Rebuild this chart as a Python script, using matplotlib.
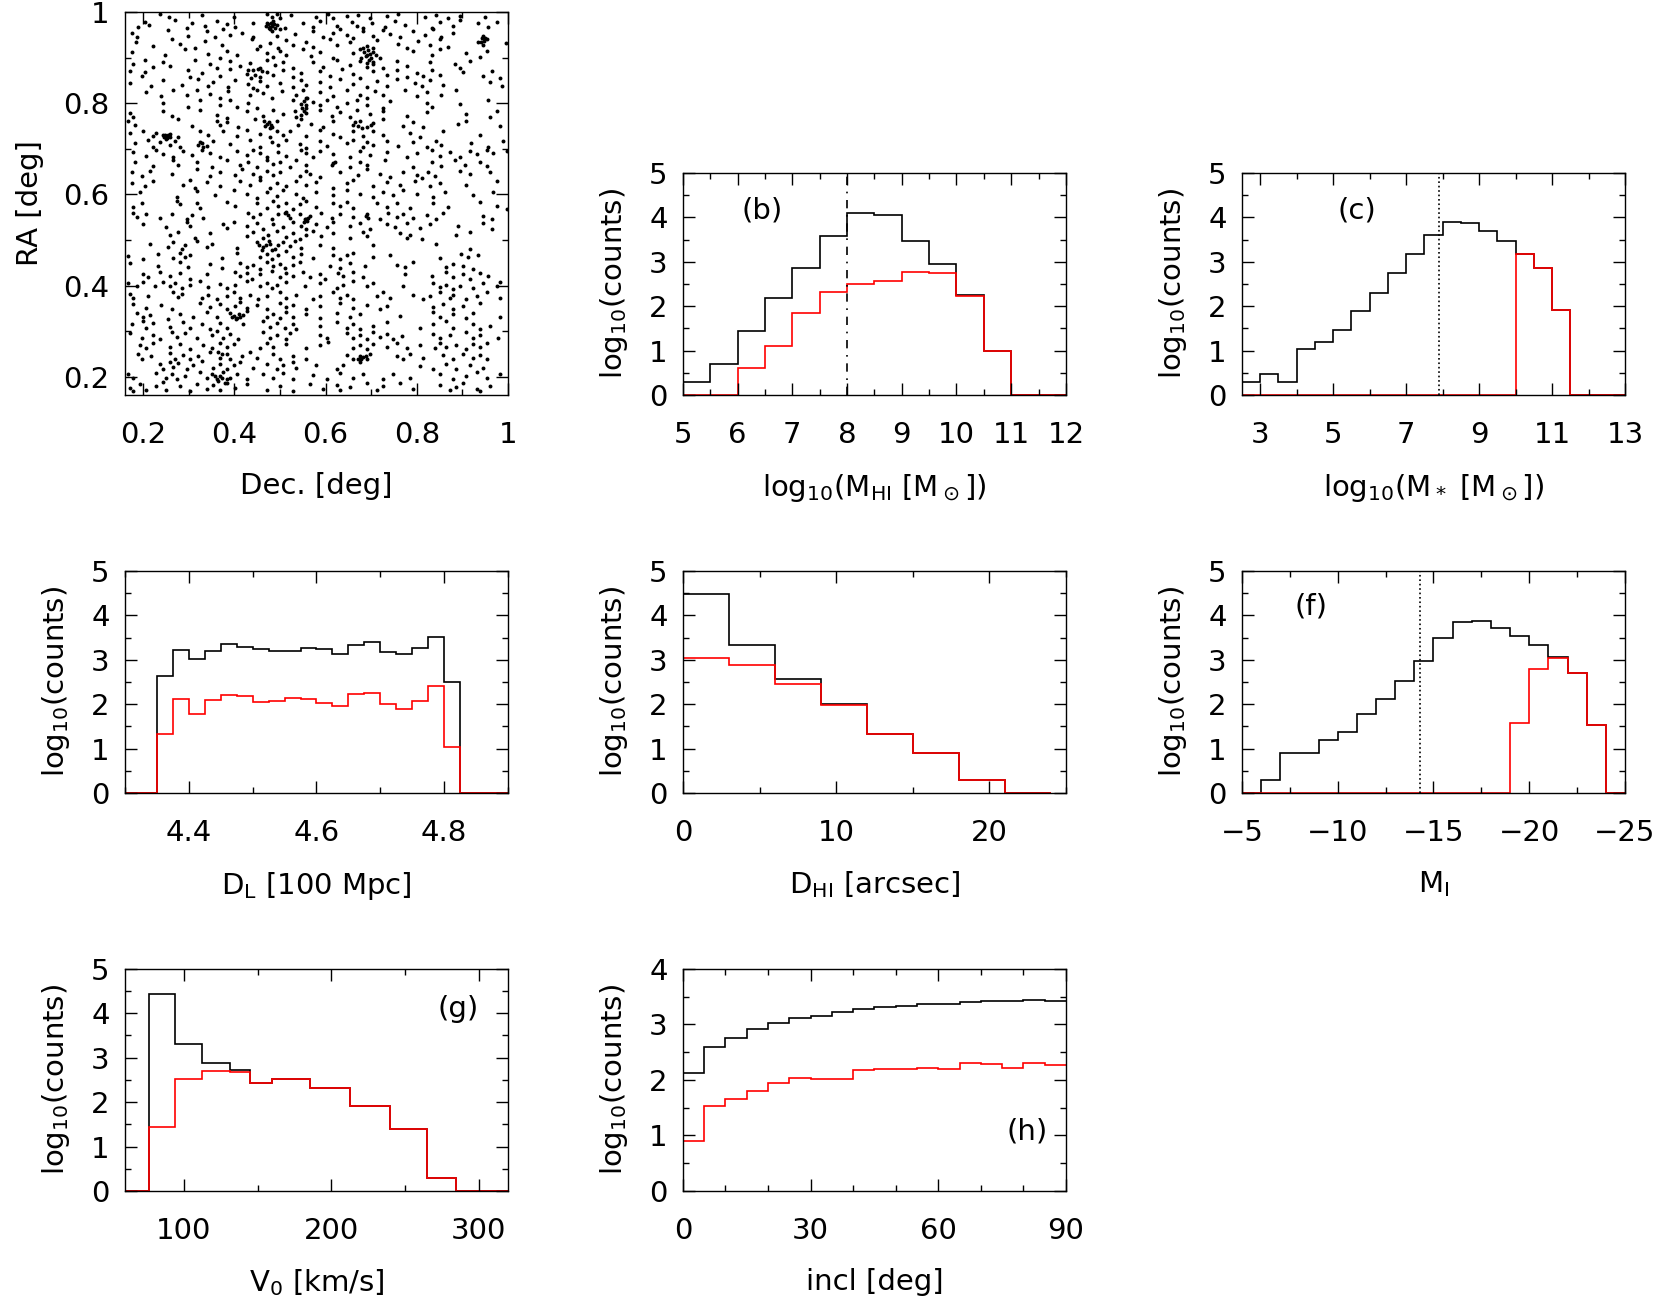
import numpy as np
import matplotlib
matplotlib.use("Agg")
import matplotlib.pyplot as plt
from matplotlib import ticker

plt.rcParams['font.family'] = ['DejaVu Sans']
plt.rcParams['mathtext.fontset'] = 'dejavusans'
plt.rcParams['font.size'] = 21

# ---- (a) sky positions: (Dec, RA) in deg ----
pts_north = [
    (0.237,0.996),(0.257,0.988),(0.328,0.993),(0.398,0.990),(0.471,0.995),(0.482,0.990),(0.493,0.996),(0.500,0.986),
    (0.525,0.993),(0.580,0.988),(0.606,0.995),(0.617,0.986),(0.646,0.991),(0.672,0.994),(0.697,0.987),(0.734,0.992),
    (0.759,0.996),(0.818,0.989),(0.843,0.994),(0.869,0.987),(0.895,0.992),(0.949,0.990),
    (0.189,0.968),(0.204,0.978),(0.213,0.972),(0.270,0.982),(0.295,0.966),(0.306,0.975),(0.335,0.970),(0.361,0.980),
    (0.383,0.973),(0.401,0.968),(0.441,0.977),(0.471,0.975),(0.478,0.968),(0.485,0.980),(0.493,0.972),(0.511,0.966),
    (0.551,0.975),(0.573,0.968),(0.588,0.980),(0.624,0.970),(0.657,0.978),(0.668,0.970),(0.683,0.965),(0.701,0.975),
    (0.730,0.968),(0.752,0.980),(0.774,0.972),(0.833,0.966),(0.851,0.978),(0.880,0.970),(0.895,0.982),(0.935,0.975),
    (0.957,0.968),(0.975,0.978),
    (0.474,0.974),(0.480,0.977),(0.483,0.970),(0.476,0.966),(0.486,0.974),(0.479,0.962),(0.470,0.970),(0.488,0.966),
    (0.175,0.955),(0.186,0.945),(0.255,0.960),(0.299,0.948),(0.339,0.958),(0.357,0.945),(0.376,0.962),(0.390,0.950),
    (0.416,0.955),(0.441,0.946),(0.482,0.958),(0.493,0.948),(0.500,0.962),(0.533,0.952),(0.573,0.958),(0.595,0.945),
    (0.617,0.955),(0.631,0.962),(0.646,0.950),(0.661,0.944),(0.683,0.958),(0.705,0.948),(0.727,0.960),(0.741,0.952),
    (0.763,0.945),(0.792,0.958),(0.818,0.950),(0.836,0.962),(0.854,0.946),(0.880,0.955),(0.946,0.948),(0.953,0.940),
    (0.184,0.935),(0.222,0.925),(0.262,0.940),(0.281,0.930),(0.313,0.922),(0.335,0.937),(0.372,0.928),(0.438,0.940),
    (0.456,0.925),(0.478,0.933),(0.496,0.922),(0.514,0.938),(0.529,0.928),(0.558,0.935),(0.573,0.923),(0.610,0.940),
    (0.624,0.928),(0.653,0.935),(0.690,0.925),(0.712,0.938),(0.759,0.930),(0.778,0.922),(0.803,0.937),(0.829,0.927),
    (0.851,0.940),(0.869,0.923),(0.935,0.935),(0.946,0.928),(0.995,0.933),
    (0.942,0.942),(0.950,0.944),(0.948,0.936),(0.940,0.934),
    (0.175,0.912),(0.248,0.905),(0.292,0.918),(0.343,0.908),(0.368,0.900),(0.383,0.915),(0.405,0.905),(0.449,0.918),
    (0.471,0.910),(0.485,0.902),(0.500,0.915),(0.514,0.906),(0.551,0.918),(0.569,0.903),(0.588,0.912),(0.617,0.900),
    (0.661,0.910),(0.675,0.918),(0.690,0.905),(0.705,0.913),(0.719,0.900),(0.792,0.915),(0.833,0.905),(0.851,0.918),
    (0.909,0.910),(0.938,0.902),(0.953,0.915),
    (0.685,0.912),(0.693,0.916),(0.698,0.908),(0.688,0.903),(0.700,0.900),(0.705,0.920),(0.682,0.920),(0.695,0.895),
    (0.710,0.905),(0.678,0.900),(0.703,0.890),(0.690,0.888),
    (0.177,0.885),(0.204,0.895),(0.222,0.880),(0.244,0.890),(0.259,0.882),(0.313,0.895),(0.346,0.885),(0.361,0.878),
    (0.390,0.892),(0.412,0.882),(0.434,0.888),(0.456,0.878),(0.471,0.895),(0.489,0.884),(0.507,0.890),(0.529,0.878),
    (0.573,0.890),(0.595,0.880),(0.624,0.895),(0.653,0.884),(0.675,0.892),(0.690,0.880),(0.705,0.886),(0.727,0.878),
    (0.756,0.892),(0.778,0.882),(0.829,0.890),(0.884,0.885),(0.895,0.878),(0.917,0.892),
    (0.171,0.870),(0.197,0.860),(0.204,0.868),(0.299,0.872),(0.303,0.858),(0.328,0.866),(0.368,0.860),(0.390,0.874),
    (0.427,0.865),(0.441,0.872),(0.456,0.858),(0.471,0.868),(0.485,0.862),(0.507,0.872),(0.529,0.858),(0.547,0.866),
    (0.588,0.870),(0.610,0.860),(0.635,0.874),(0.661,0.864),(0.675,0.856),(0.705,0.870),(0.734,0.862),(0.756,0.872),
    (0.778,0.858),(0.800,0.866),(0.814,0.860),(0.833,0.872),(0.851,0.862),(0.902,0.868),(0.946,0.860),(0.964,0.870),
    (0.982,0.856),(0.430,0.872),(0.445,0.862),(0.460,0.870),(0.437,0.855),(0.452,0.876),
    (0.171,0.845),(0.218,0.838),(0.244,0.850),(0.284,0.840),(0.321,0.852),(0.343,0.838),(0.354,0.846),(0.387,0.835),
    (0.401,0.850),(0.430,0.842),(0.441,0.834),(0.456,0.848),(0.471,0.838),(0.500,0.845),(0.529,0.835),(0.547,0.850),
    (0.558,0.840),(0.588,0.846),(0.610,0.836),(0.631,0.852),(0.661,0.842),(0.690,0.835),(0.712,0.848),(0.734,0.838),
    (0.756,0.852),(0.796,0.845),(0.811,0.838),(0.829,0.850),(0.858,0.840),(0.960,0.846),(0.986,0.838),
    (0.207,0.825),(0.240,0.815),(0.266,0.828),(0.295,0.818),(0.317,0.830),(0.346,0.820),(0.368,0.812),(0.387,0.826),
    (0.434,0.818),(0.449,0.830),(0.463,0.822),(0.482,0.812),(0.504,0.826),(0.536,0.818),(0.551,0.830),(0.558,0.812),
    (0.588,0.824),(0.617,0.815),(0.646,0.828),(0.675,0.818),(0.690,0.812),(0.708,0.826),(0.727,0.818),(0.774,0.828),
    (0.800,0.815),(0.822,0.825),(0.854,0.818),(0.887,0.828),
    (0.553,0.805),(0.556,0.795),(0.548,0.790),(0.560,0.812),(0.552,0.782),(0.545,0.775),
    (0.244,0.800),(0.299,0.792),(0.324,0.806),(0.368,0.796),(0.390,0.808),(0.405,0.792),(0.430,0.800),(0.449,0.790),
    (0.529,0.806),(0.547,0.798),(0.558,0.790),(0.573,0.802),(0.588,0.795),(0.602,0.808),(0.624,0.792),(0.646,0.800),
    (0.668,0.808),(0.690,0.795),(0.727,0.790),(0.741,0.805),(0.822,0.800),(0.833,0.792),(0.895,0.798),(0.957,0.806),
    (0.171,0.778),(0.178,0.770),(0.244,0.782),(0.262,0.772),(0.324,0.786),(0.361,0.775),(0.383,0.768),(0.427,0.782),
    (0.463,0.772),(0.485,0.786),(0.507,0.776),(0.533,0.782),(0.536,0.770),(0.558,0.778),(0.588,0.786),(0.613,0.772),
    (0.631,0.780),(0.653,0.770),(0.668,0.785),(0.697,0.776),(0.727,0.782),(0.778,0.772),(0.822,0.780),(0.909,0.776),
    (0.960,0.770),(0.975,0.782),
    (0.167,0.760),(0.182,0.752),(0.277,0.765),(0.306,0.750),(0.361,0.762),(0.368,0.752),(0.383,0.758),(0.408,0.748),
    (0.445,0.765),(0.471,0.755),(0.482,0.748),(0.493,0.760),(0.540,0.752),(0.547,0.765),(0.569,0.755),(0.595,0.748),
    (0.617,0.762),(0.661,0.752),(0.675,0.760),(0.690,0.748),(0.705,0.756),(0.727,0.765),(0.770,0.750),(0.792,0.758),
    (0.814,0.748),(0.891,0.755),(0.909,0.762),(0.982,0.750),
    (0.475,0.758),(0.468,0.750),(0.478,0.745),(0.465,0.762),(0.480,0.752),
    (0.665,0.758),(0.672,0.750),(0.680,0.745),(0.700,0.752),
    (0.171,0.735),(0.200,0.740),(0.222,0.728),(0.229,0.735),(0.248,0.730),(0.251,0.726),(0.259,0.732),(0.277,0.725),
    (0.324,0.740),(0.343,0.730),(0.376,0.738),(0.405,0.728),(0.427,0.742),(0.456,0.732),(0.478,0.725),(0.493,0.740),
    (0.507,0.730),(0.522,0.738),(0.558,0.728),(0.588,0.742),(0.617,0.732),(0.631,0.725),(0.661,0.738),(0.683,0.728),
    (0.705,0.740),(0.727,0.730),(0.785,0.735),(0.807,0.726),(0.858,0.738),(0.938,0.730),
    (0.248,0.728),(0.253,0.724),(0.256,0.729),(0.250,0.722),(0.245,0.725),(0.254,0.731),(0.258,0.725),(0.243,0.730),
    (0.182,0.712),(0.211,0.720),(0.222,0.705),(0.237,0.715),(0.259,0.708),(0.270,0.718),(0.281,0.705),(0.324,0.715),
    (0.339,0.706),(0.354,0.718),(0.390,0.710),(0.434,0.720),(0.456,0.705),(0.482,0.715),(0.496,0.708),(0.514,0.720),
    (0.544,0.710),(0.558,0.702),(0.588,0.716),(0.602,0.706),(0.646,0.712),(0.661,0.720),(0.683,0.705),(0.690,0.715),
    (0.705,0.708),(0.734,0.718),(0.759,0.706),(0.792,0.714),(0.822,0.704),(0.843,0.716),(0.854,0.708),(0.920,0.712),
    (0.957,0.704),(0.990,0.716),(0.328,0.712),(0.332,0.705),(0.320,0.708),
    (0.178,0.692),(0.207,0.685),(0.229,0.698),(0.244,0.688),(0.266,0.682),(0.288,0.695),(0.306,0.686),(0.328,0.698),
    (0.346,0.690),(0.368,0.682),(0.405,0.695),(0.427,0.686),(0.441,0.698),(0.456,0.690),(0.471,0.682),(0.496,0.694),
    (0.514,0.685),(0.547,0.698),(0.558,0.690),(0.573,0.682),(0.588,0.695),(0.617,0.688),(0.653,0.682),(0.675,0.695),
    (0.697,0.686),(0.734,0.692),(0.778,0.682),(0.800,0.690),(0.833,0.698),(0.851,0.685),(0.873,0.692),(0.895,0.682),
    (0.917,0.695),(0.931,0.688),(0.953,0.698),(0.968,0.690),(0.997,0.695),
    (0.182,0.670),(0.222,0.662),(0.266,0.675),(0.277,0.665),(0.317,0.672),(0.350,0.660),(0.383,0.675),(0.412,0.665),
    (0.430,0.672),(0.449,0.660),(0.471,0.676),(0.485,0.666),(0.500,0.672),(0.522,0.660),(0.536,0.675),(0.558,0.665),
    (0.617,0.668),(0.653,0.660),(0.675,0.672),(0.690,0.665),(0.730,0.675),(0.792,0.660),(0.833,0.670),(0.854,0.662),
    (0.884,0.675),(0.906,0.665),(0.938,0.672),(0.953,0.662),(0.615,0.665),(0.620,0.671),
    (0.175,0.648),(0.197,0.640),(0.215,0.652),(0.262,0.645),(0.317,0.655),(0.346,0.640),(0.368,0.650),(0.401,0.642),
    (0.416,0.655),(0.441,0.645),(0.456,0.638),(0.471,0.652),(0.485,0.642),(0.500,0.650),(0.544,0.640),(0.558,0.652),
    (0.566,0.645),(0.588,0.638),(0.631,0.650),(0.672,0.642),(0.690,0.655),(0.719,0.645),(0.741,0.638),(0.770,0.650),
    (0.800,0.642),(0.811,0.636),(0.825,0.648),(0.840,0.640),(0.895,0.652),(0.917,0.644),(0.960,0.650),
    (0.175,0.625),(0.204,0.618),(0.222,0.630),(0.288,0.620),(0.303,0.632),(0.313,0.615),(0.339,0.628),(0.368,0.618),
    (0.412,0.630),(0.434,0.620),(0.456,0.632),(0.478,0.615),(0.493,0.625),(0.514,0.618),(0.536,0.630),(0.558,0.620),
    (0.580,0.628),(0.617,0.615),(0.646,0.625),(0.661,0.632),(0.705,0.618),(0.734,0.628),(0.763,0.620),(0.796,0.630),
    (0.829,0.618),(0.851,0.626),(0.909,0.620),(0.975,0.630),
    (0.193,0.605),(0.273,0.595),(0.317,0.608),(0.357,0.598),(0.398,0.610),(0.427,0.600),(0.449,0.592),(0.471,0.605),
    (0.493,0.596),(0.507,0.610),(0.536,0.600),(0.551,0.592),(0.580,0.605),(0.617,0.598),(0.646,0.610),(0.675,0.600),
    (0.705,0.594),(0.727,0.606),(0.748,0.598),(0.770,0.610),(0.800,0.600),(0.836,0.594),(0.862,0.606),(0.924,0.598),
    (0.968,0.605),
]

pts_south = [
    (0.178,0.572),(0.197,0.582),(0.273,0.585),(0.281,0.578),(0.317,0.582),(0.324,0.570),(0.383,0.584),(0.401,0.574),
    (0.449,0.580),(0.471,0.570),(0.485,0.585),(0.496,0.575),(0.514,0.582),(0.529,0.568),(0.544,0.578),(0.558,0.586),
    (0.580,0.572),(0.617,0.582),(0.631,0.574),(0.646,0.584),(0.661,0.570),(0.712,0.582),(0.734,0.572),(0.756,0.580),
    (0.785,0.570),(0.836,0.580),(0.869,0.572),(0.938,0.584),(0.975,0.575),(0.997,0.568),
    (0.178,0.560),(0.186,0.550),(0.207,0.556),(0.237,0.548),(0.262,0.558),(0.295,0.545),(0.306,0.555),(0.332,0.548),
    (0.430,0.560),(0.441,0.550),(0.456,0.558),(0.482,0.546),(0.496,0.556),(0.514,0.562),(0.522,0.548),(0.544,0.556),
    (0.558,0.545),(0.566,0.552),(0.591,0.560),(0.613,0.548),(0.631,0.558),(0.661,0.550),(0.690,0.556),(0.719,0.545),
    (0.737,0.560),(0.756,0.550),(0.770,0.558),(0.792,0.548),(0.822,0.555),(0.843,0.545),(0.858,0.560),(0.946,0.552),
    (0.964,0.545),(0.555,0.546),(0.560,0.542),(0.562,0.548),(0.552,0.540),(0.692,0.548),(0.688,0.553),(0.510,0.560),
    (0.518,0.554),
    (0.200,0.535),(0.251,0.528),(0.295,0.540),(0.303,0.530),(0.376,0.536),(0.383,0.526),(0.398,0.540),(0.427,0.530),
    (0.449,0.538),(0.463,0.525),(0.485,0.535),(0.507,0.528),(0.529,0.540),(0.547,0.530),(0.558,0.524),(0.580,0.536),
    (0.602,0.528),(0.617,0.540),(0.653,0.530),(0.675,0.538),(0.697,0.525),(0.734,0.535),(0.752,0.528),(0.778,0.538),
    (0.807,0.526),(0.829,0.534),(0.891,0.530),(0.946,0.538),(0.964,0.525),
    (0.259,0.510),(0.277,0.518),(0.313,0.505),(0.346,0.515),(0.427,0.508),(0.441,0.518),(0.463,0.505),(0.474,0.512),
    (0.493,0.520),(0.514,0.506),(0.529,0.515),(0.544,0.502),(0.558,0.512),(0.573,0.520),(0.591,0.508),(0.617,0.515),
    (0.653,0.505),(0.683,0.518),(0.690,0.508),(0.763,0.515),(0.778,0.505),(0.785,0.512),(0.811,0.502),(0.887,0.510),
    (0.917,0.518),
    (0.215,0.492),(0.255,0.485),(0.266,0.495),(0.284,0.480),(0.292,0.490),(0.317,0.498),(0.339,0.485),(0.350,0.492),
    (0.405,0.482),(0.449,0.495),(0.463,0.485),(0.478,0.492),(0.489,0.480),(0.507,0.495),(0.522,0.486),(0.533,0.498),
    (0.547,0.482),(0.588,0.490),(0.617,0.482),(0.705,0.488),(0.843,0.492),(0.917,0.480),
    (0.455,0.490),(0.470,0.488),(0.482,0.478),(0.495,0.488),(0.460,0.478),(0.475,0.498),
    (0.167,0.465),(0.200,0.458),(0.233,0.470),(0.266,0.460),(0.281,0.472),(0.292,0.462),(0.303,0.468),(0.372,0.460),
    (0.405,0.472),(0.456,0.462),(0.471,0.470),(0.482,0.458),(0.496,0.468),(0.514,0.475),(0.529,0.462),(0.547,0.470),
    (0.573,0.460),(0.617,0.468),(0.631,0.458),(0.646,0.466),(0.661,0.472),(0.705,0.462),(0.741,0.468),(0.851,0.460),
    (0.898,0.470),(0.913,0.462),(0.935,0.468),
    (0.171,0.450),(0.233,0.442),(0.281,0.452),(0.299,0.440),(0.346,0.448),(0.372,0.438),(0.412,0.450),(0.427,0.440),
    (0.441,0.446),(0.456,0.436),(0.471,0.452),(0.485,0.442),(0.500,0.448),(0.511,0.438),(0.529,0.445),(0.544,0.452),
    (0.610,0.444),(0.631,0.438),(0.653,0.450),(0.686,0.442),(0.756,0.446),(0.774,0.440),(0.792,0.452),(0.865,0.440),
    (0.880,0.448),(0.902,0.442),(0.924,0.436),
    (0.200,0.425),(0.211,0.418),(0.237,0.430),(0.259,0.420),(0.281,0.428),(0.303,0.415),(0.339,0.425),(0.401,0.430),
    (0.412,0.420),(0.427,0.428),(0.438,0.415),(0.456,0.425),(0.482,0.432),(0.500,0.418),(0.514,0.428),(0.529,0.420),
    (0.551,0.430),(0.566,0.418),(0.588,0.425),(0.599,0.415),(0.628,0.428),(0.639,0.420),(0.661,0.430),(0.683,0.418),
    (0.774,0.425),(0.833,0.420),(0.865,0.430),(0.880,0.418),(0.902,0.425),(0.917,0.415),(0.938,0.428),(0.957,0.420),
    (0.167,0.405),(0.186,0.398),(0.200,0.408),(0.226,0.400),(0.244,0.408),(0.259,0.398),(0.270,0.405),(0.284,0.395),
    (0.303,0.402),(0.324,0.410),(0.343,0.396),(0.368,0.404),(0.383,0.395),(0.401,0.402),(0.427,0.410),(0.456,0.398),
    (0.471,0.405),(0.482,0.395),(0.493,0.402),(0.514,0.408),(0.555,0.398),(0.588,0.405),(0.624,0.395),(0.639,0.402),
    (0.661,0.410),(0.690,0.398),(0.705,0.405),(0.770,0.398),(0.836,0.405),(0.851,0.396),(0.865,0.402),(0.880,0.392),
    (0.895,0.400),(0.924,0.395),(0.946,0.405),(0.975,0.398),(0.982,0.408),
    (0.171,0.382),(0.178,0.372),(0.211,0.378),(0.266,0.385),(0.277,0.375),(0.284,0.382),(0.328,0.372),(0.343,0.380),
    (0.361,0.370),(0.383,0.378),(0.398,0.386),(0.412,0.372),(0.434,0.380),(0.452,0.370),(0.471,0.378),(0.500,0.386),
    (0.514,0.372),(0.536,0.380),(0.573,0.370),(0.588,0.378),(0.617,0.385),(0.631,0.372),(0.646,0.380),(0.661,0.370),
    (0.712,0.378),(0.727,0.386),(0.741,0.372),(0.792,0.380),(0.814,0.370),(0.829,0.378),(0.851,0.385),(0.873,0.372),
    (0.880,0.380),(0.909,0.370),(0.931,0.378),(0.953,0.385),(0.982,0.372),
    (0.178,0.360),(0.207,0.350),(0.240,0.358),(0.262,0.348),(0.324,0.362),(0.346,0.352),(0.368,0.360),(0.383,0.348),
    (0.401,0.356),(0.412,0.364),(0.427,0.350),(0.449,0.358),(0.471,0.348),(0.500,0.362),(0.514,0.352),(0.529,0.358),
    (0.558,0.348),(0.588,0.356),(0.631,0.362),(0.661,0.350),(0.690,0.358),(0.719,0.348),(0.734,0.356),(0.836,0.352),
    (0.858,0.360),(0.880,0.348),(0.902,0.356),(0.938,0.362),
    (0.186,0.340),(0.200,0.330),(0.215,0.336),(0.255,0.326),(0.281,0.338),(0.310,0.330),(0.339,0.342),(0.361,0.332),
    (0.390,0.340),(0.405,0.328),(0.419,0.336),(0.427,0.344),(0.471,0.330),(0.485,0.338),(0.500,0.328),(0.514,0.342),
    (0.529,0.332),(0.558,0.338),(0.588,0.328),(0.624,0.340),(0.653,0.330),(0.675,0.338),(0.763,0.334),(0.836,0.342),
    (0.851,0.330),(0.880,0.338),(0.909,0.328),(0.924,0.340),(0.982,0.332),
    (0.400,0.334),(0.410,0.338),(0.403,0.326),(0.395,0.330),(0.412,0.330),
    (0.175,0.315),(0.200,0.322),(0.207,0.308),(0.222,0.318),(0.259,0.310),(0.288,0.320),(0.303,0.306),(0.328,0.315),
    (0.346,0.305),(0.368,0.318),(0.383,0.308),(0.419,0.316),(0.463,0.322),(0.478,0.310),(0.493,0.318),(0.511,0.306),
    (0.529,0.315),(0.536,0.305),(0.588,0.312),(0.624,0.320),(0.646,0.308),(0.661,0.316),(0.675,0.305),(0.705,0.312),
    (0.734,0.320),(0.807,0.306),(0.836,0.315),(0.865,0.322),(0.880,0.308),(0.924,0.316),(0.938,0.305),(0.960,0.312),
    (0.171,0.295),(0.197,0.285),(0.222,0.292),(0.237,0.282),(0.262,0.298),(0.273,0.288),(0.292,0.295),(0.317,0.284),
    (0.350,0.292),(0.361,0.300),(0.376,0.286),(0.390,0.294),(0.408,0.282),(0.463,0.298),(0.478,0.286),(0.493,0.292),
    (0.514,0.282),(0.522,0.296),(0.588,0.292),(0.602,0.284),(0.646,0.296),(0.661,0.286),(0.675,0.292),(0.690,0.282),
    (0.705,0.298),(0.719,0.288),(0.734,0.294),(0.748,0.282),(0.767,0.290),(0.836,0.294),(0.851,0.284),(0.873,0.292),
    (0.909,0.298),(0.924,0.286),(0.938,0.292),(0.979,0.284),
    (0.193,0.270),(0.207,0.262),(0.222,0.275),(0.259,0.265),(0.281,0.272),(0.303,0.260),(0.332,0.270),(0.350,0.262),
    (0.368,0.275),(0.383,0.265),(0.398,0.272),(0.456,0.262),(0.471,0.275),(0.485,0.266),(0.514,0.272),(0.558,0.262),
    (0.588,0.270),(0.606,0.276),(0.661,0.262),(0.675,0.270),(0.690,0.260),(0.705,0.272),(0.734,0.265),(0.756,0.275),
    (0.778,0.262),(0.807,0.270),(0.840,0.262),(0.851,0.274),(0.865,0.266),(0.887,0.270),(0.909,0.260),(0.924,0.272),
    (0.938,0.265),(0.953,0.275),
    (0.189,0.250),(0.197,0.240),(0.218,0.246),(0.259,0.252),(0.270,0.240),(0.288,0.248),(0.303,0.238),(0.321,0.246),
    (0.346,0.254),(0.368,0.242),(0.383,0.250),(0.390,0.238),(0.416,0.246),(0.434,0.254),(0.449,0.242),(0.485,0.250),
    (0.500,0.240),(0.529,0.246),(0.558,0.238),(0.646,0.248),(0.661,0.240),(0.675,0.246),(0.690,0.238),(0.697,0.250),
    (0.756,0.246),(0.770,0.238),(0.785,0.250),(0.814,0.242),(0.858,0.248),(0.880,0.240),(0.902,0.250),(0.924,0.242),
    (0.938,0.248),(0.953,0.240),(0.678,0.240),(0.683,0.243),(0.672,0.238),(0.688,0.246),(0.365,0.255),(0.372,0.250),
    (0.237,0.228),(0.244,0.218),(0.259,0.232),(0.266,0.222),(0.277,0.230),(0.295,0.218),(0.310,0.226),(0.328,0.234),
    (0.354,0.220),(0.368,0.228),(0.383,0.218),(0.398,0.226),(0.412,0.232),(0.441,0.220),(0.471,0.228),(0.493,0.218),
    (0.507,0.226),(0.529,0.232),(0.536,0.220),(0.580,0.226),(0.624,0.218),(0.639,0.226),(0.675,0.232),(0.807,0.224),
    (0.836,0.216),(0.865,0.228),(0.887,0.218),(0.917,0.226),(0.946,0.220),
    (0.167,0.205),(0.178,0.198),(0.229,0.208),(0.251,0.198),(0.262,0.205),(0.273,0.195),(0.292,0.202),(0.324,0.210),
    (0.339,0.198),(0.350,0.205),(0.361,0.195),(0.368,0.202),(0.376,0.210),(0.390,0.198),(0.405,0.205),(0.427,0.195),
    (0.463,0.205),(0.485,0.198),(0.507,0.208),(0.529,0.196),(0.573,0.204),(0.602,0.196),(0.631,0.208),(0.661,0.198),
    (0.683,0.205),(0.727,0.196),(0.748,0.205),(0.785,0.198),(0.851,0.205),(0.880,0.196),(0.909,0.202),(0.931,0.210),
    (0.953,0.198),(0.982,0.205),(0.365,0.190),(0.372,0.198),(0.380,0.186),(0.358,0.202),(0.384,0.194),
    (0.171,0.175),(0.178,0.168),(0.193,0.185),(0.207,0.172),(0.229,0.180),(0.244,0.188),(0.251,0.172),(0.281,0.180),
    (0.303,0.168),(0.317,0.185),(0.339,0.174),(0.354,0.182),(0.368,0.170),(0.383,0.186),(0.401,0.176),(0.427,0.184),
    (0.471,0.172),(0.500,0.180),(0.529,0.168),(0.566,0.185),(0.595,0.174),(0.624,0.182),(0.631,0.170),(0.653,0.178),
    (0.690,0.186),(0.712,0.172),(0.727,0.180),(0.763,0.186),(0.792,0.174),(0.851,0.182),(0.873,0.170),(0.887,0.178),
    (0.902,0.186),(0.931,0.174),(0.938,0.168),(0.960,0.180),
]

# ---- histograms: log10(counts), black = all, red = detected ----
mhi_edges = np.arange(5.0, 12.01, 0.5)
mhi_all = [0.30, 0.70, 1.45, 2.19, 2.85, 3.58, 4.09, 4.05, 3.47, 2.95, 2.25, 1.00, 0, 0]
mhi_det = [0, 0, 0.60, 1.11, 1.85, 2.32, 2.51, 2.57, 2.77, 2.74, 2.23, 1.00, 0, 0]

mstar_edges = np.arange(2.5, 13.01, 0.5)
mstar_all = [0.30, 0.47, 0.30, 1.03, 1.20, 1.47, 1.90, 2.29, 2.74, 3.17, 3.61, 3.90, 3.88, 3.69, 3.47,
             3.17, 2.85, 1.91, 0, 0, 0]
mstar_det = [0] * 15 + [3.17, 2.85, 1.91, 0, 0, 0]

dl_edges = np.linspace(4.30, 4.90, 25)
dl_all = [0, 0, 2.64, 3.22, 3.02, 3.19, 3.36, 3.29, 3.24, 3.19, 3.19, 3.26, 3.24, 3.12, 3.34, 3.39,
          3.18, 3.14, 3.27, 3.52, 2.49, 0, 0, 0]
dl_det = [0, 0, 1.33, 2.12, 1.77, 2.09, 2.21, 2.18, 2.04, 2.07, 2.14, 2.12, 2.02, 1.95, 2.22, 2.25,
          2.01, 1.89, 2.08, 2.41, 1.03, 0, 0, 0]

dhi_edges = np.arange(0, 24.1, 3)
dhi_all = [4.47, 3.33, 2.57, 2.00, 1.33, 0.90, 0.29, 0]
dhi_det = [3.04, 2.87, 2.45, 1.97, 1.33, 0.90, 0.29, 0]

mi_edges = np.arange(-25, -4.9, 1)
mi_all = [0, 1.54, 2.70, 3.06, 3.34, 3.54, 3.72, 3.88, 3.84, 3.49, 2.97, 2.52, 2.11, 1.78, 1.37,
          1.19, 0.90, 0.90, 0.29, 0]
mi_det = [0, 1.54, 2.70, 3.03, 2.79, 1.58] + [0] * 14

v0_edges = [60, 76, 94, 112.5, 131.5, 145, 159.5, 185.5, 212.5, 240, 265, 285, 320]
v0_all = [0, 4.44, 3.31, 2.88, 2.73, 2.44, 2.51, 2.31, 1.91, 1.39, 0.29, 0]
v0_det = [0, 1.44, 2.53, 2.70, 2.68, 2.44, 2.51, 2.31, 1.91, 1.39, 0.29, 0]

incl_edges = np.arange(0, 90.1, 5)
incl_all = [2.13, 2.60, 2.75, 2.92, 3.02, 3.11, 3.16, 3.22, 3.27, 3.32, 3.34, 3.37, 3.37, 3.40,
            3.42, 3.43, 3.44, 3.43]
incl_det = [0.90, 1.53, 1.66, 1.80, 1.95, 2.04, 2.02, 2.01, 2.18, 2.19, 2.20, 2.22, 2.20, 2.30,
            2.29, 2.22, 2.31, 2.26]

fig = plt.figure(figsize=(16.6, 13.07), dpi=100)

L = [0.0753, 0.4114, 0.7482]
W = 0.2307
B = [0.6978, 0.3933, 0.0888]
H = 0.1699


def style(ax, xmaj, xmin, ymaj=1, ymin=0.5):
    ax.xaxis.set_major_locator(ticker.MultipleLocator(xmaj))
    ax.xaxis.set_minor_locator(ticker.MultipleLocator(xmin))
    ax.yaxis.set_major_locator(ticker.MultipleLocator(ymaj))
    ax.yaxis.set_minor_locator(ticker.MultipleLocator(ymin))
    ax.tick_params(which='both', direction='in', top=True, right=True, width=1.0)
    ax.tick_params(which='major', length=8.5)
    ax.tick_params(which='minor', length=4.5)
    ax.tick_params(axis='x', which='both', pad=19, labelsize=21)
    ax.tick_params(axis='y', which='both', pad=11, labelsize=21)
    for s in ax.spines.values():
        s.set_linewidth(1.0)


def hist_panel(col, row, edges, allv, detv, xlim, xmaj, xmin, xlabel, ymax=5,
               tag=None, tagxy=None, vline=None, ls=':', base=0):
    ax = fig.add_axes([L[col], B[row], W, H])
    ax.stairs(allv, edges, color='black', lw=1.2, baseline=base)
    ax.stairs(detv, edges, color='red', lw=1.2, baseline=base)
    if vline is not None:
        ax.axvline(vline, color='black', lw=1.2, ls=ls)
    ax.set_xlim(*xlim)
    ax.set_ylim(0, ymax)
    style(ax, xmaj, xmin)
    ax.set_xlabel(xlabel, fontsize=21, labelpad=16)
    ax.set_ylabel(r'log$_{10}$(counts)', fontsize=21, labelpad=14)
    if tag:
        ax.text(tagxy[0], tagxy[1], tag, fontsize=21, ha='center', va='center')
    return ax


# (a) sky distribution
ax = fig.add_axes([L[0], 0.6978, W, 0.2930])
pts = np.array(pts_north + pts_south)
ax.scatter(pts[:, 0], pts[:, 1], s=8, c='black', marker='o', linewidths=0)
ax.set_xlim(0.16, 1.0)
ax.set_ylim(0.16, 1.0)
style(ax, 0.2, 0.1, 0.2, 0.1)
fmt = ticker.FuncFormatter(lambda v, p: f'{v:g}')
ax.xaxis.set_major_formatter(fmt)
ax.yaxis.set_major_formatter(fmt)
ax.set_xlabel('Dec. [deg]', fontsize=21, labelpad=16)
ax.set_ylabel('RA [deg]', fontsize=21, labelpad=14)

hist_panel(1, 0, mhi_edges, mhi_all, mhi_det, (5, 12), 1, 0.5,
           r'log$_{10}$(M$_{\rm HI}$ [M$_\odot$])', tag='(b)', tagxy=(6.45, 4.15),
           vline=8.0, ls=(0, (5, 4, 1, 4)))
ax_c = hist_panel(2, 0, mstar_edges, mstar_all, mstar_det, (2.5, 13), 2, 1,
                  r'log$_{10}$(M$_*$ [M$_\odot$])', tag='(c)', tagxy=(5.65, 4.15), vline=7.9)
ax_c.set_xticks([3, 5, 7, 9, 11, 13])

hist_panel(0, 1, dl_edges, dl_all, dl_det, (4.3, 4.9), 0.2, 0.1, r'D$_{\rm L}$ [100 Mpc]')
hist_panel(1, 1, dhi_edges, dhi_all, dhi_det, (0, 25), 10, 5, r'D$_{\rm HI}$ [arcsec]')
hist_panel(2, 1, mi_edges, mi_all, mi_det, (-5, -25), 5, 2.5, r'M$_{\rm I}$',
           tag='(f)', tagxy=(-8.6, 4.19), vline=-14.3)

hist_panel(0, 2, v0_edges, v0_all, v0_det, (60, 320), 100, 50, r'V$_0$ [km/s]',
           tag='(g)', tagxy=(286, 4.1))
hist_panel(1, 2, incl_edges, incl_all, incl_det, (0, 90), 30, 10, 'incl [deg]', ymax=4,
           tag='(h)', tagxy=(81, 1.07), base=None)

fig.savefig('out.png', dpi=100)
